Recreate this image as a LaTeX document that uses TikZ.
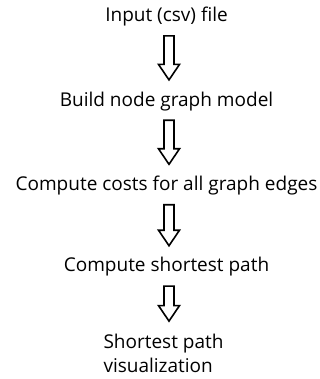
\documentclass[tikz,border=0pt]{standalone}
\usepackage{fontspec}
\setmainfont{Open Sans}
\usetikzlibrary{positioning,calc}

\begin{document}
\begin{tikzpicture}[
    x=1pt, y=-1pt,
    every node/.style={font=\fontsize{19}{23.5}\selectfont, inner sep=0pt},
    stepnode/.style={text height=13pt, text depth=4pt},
    blockarr/.style={line width=1.6pt, line join=miter, to path={
      let \p1=($(\tikztostart)+(2.5pt,-10pt)$), \p2=($(\tikztotarget)+(2.5pt,13pt)$) in
      (\x1-5pt,\y1) -- (\x1+5pt,\y1) -- (\x1+5pt,\y2+15.5pt) -- (\x1+10.5pt,\y2+15.5pt)
      -- (\x1,\y2) -- (\x1-10.5pt,\y2+15.5pt) -- (\x1-5pt,\y2+15.5pt) -- cycle}}
  ]
    \useasboundingbox (0,0) rectangle (320,379);

    \node[stepnode] (input) at (166.5,17.2) {Input (csv) file};
    \node[stepnode, below=67pt of input] (build) {Build node graph model};
    \node[stepnode, below=67pt of build] (costs) {Compute costs for all graph edges};
    \node[stepnode, below=64pt of costs] (path) {Compute shortest path};
    \node[align=left, below=58pt of path, xshift=-3pt] (vis) {Shortest path\\visualization};

    % hollow arrows between the steps
    \draw[blockarr] (input.south) to (build.north);
    \draw[blockarr] (build.south) to (costs.north);
    \draw[blockarr] (costs.south) to (path.north);
    \draw[blockarr] (path.south) to (vis.north);
\end{tikzpicture}
\end{document}
